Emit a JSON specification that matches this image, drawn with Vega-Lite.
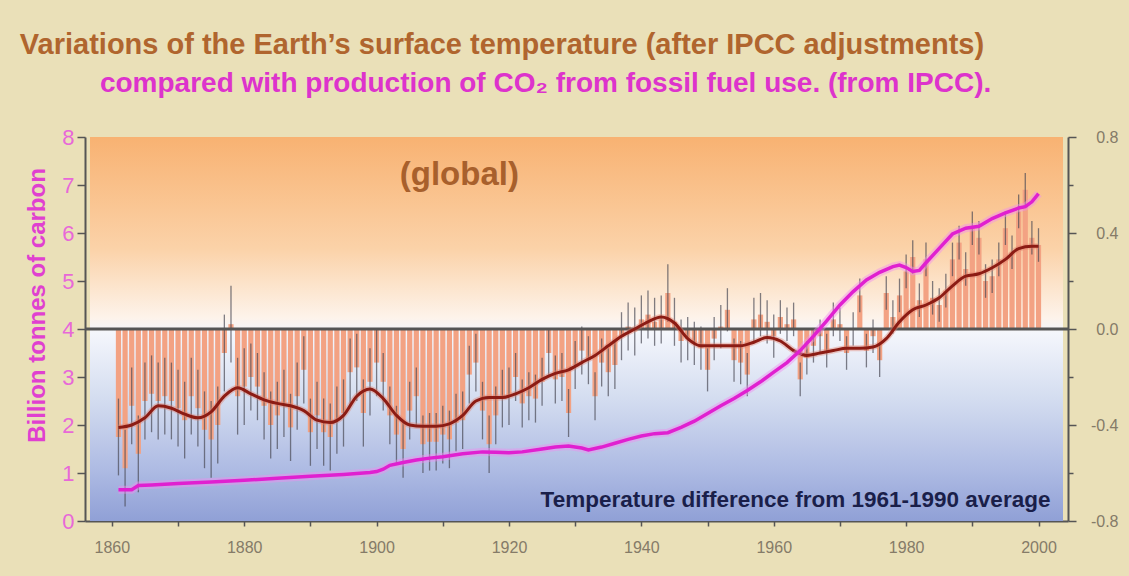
{
  "$schema": "https://vega.github.io/schema/vega-lite/v6.json",
  "width": 983,
  "height": 384,
  "autosize": {"type": "none"},
  "padding": {"left": 85, "top": 137, "right": 61, "bottom": 55},
  "background": "#eae0b8",
  "config": {"view": {"stroke": null}},
  "datasets": {
    "temp": [
      {"year":1861,"t":-0.45,"u":0.16},{"year":1862,"t":-0.58,"u":0.16},{"year":1863,"t":-0.32,"u":0.16},{"year":1864,"t":-0.52,"u":0.16},{"year":1865,"t":-0.30,"u":0.16},
      {"year":1866,"t":-0.27,"u":0.16},{"year":1867,"t":-0.30,"u":0.16},{"year":1868,"t":-0.28,"u":0.16},{"year":1869,"t":-0.30,"u":0.16},{"year":1870,"t":-0.33,"u":0.16},
      {"year":1871,"t":-0.38,"u":0.16},{"year":1872,"t":-0.28,"u":0.16},{"year":1873,"t":-0.33,"u":0.16},{"year":1874,"t":-0.42,"u":0.16},{"year":1875,"t":-0.46,"u":0.16},
      {"year":1876,"t":-0.40,"u":0.16},{"year":1877,"t":-0.10,"u":0.16},{"year":1878,"t":0.02,"u":0.16},{"year":1879,"t":-0.28,"u":0.16},{"year":1880,"t":-0.24,"u":0.16},
      {"year":1881,"t":-0.20,"u":0.14},{"year":1882,"t":-0.24,"u":0.14},{"year":1883,"t":-0.32,"u":0.14},{"year":1884,"t":-0.40,"u":0.14},{"year":1885,"t":-0.36,"u":0.14},
      {"year":1886,"t":-0.31,"u":0.14},{"year":1887,"t":-0.41,"u":0.14},{"year":1888,"t":-0.28,"u":0.14},{"year":1889,"t":-0.17,"u":0.14},{"year":1890,"t":-0.43,"u":0.14},
      {"year":1891,"t":-0.36,"u":0.14},{"year":1892,"t":-0.43,"u":0.14},{"year":1893,"t":-0.45,"u":0.14},{"year":1894,"t":-0.38,"u":0.14},{"year":1895,"t":-0.35,"u":0.14},
      {"year":1896,"t":-0.18,"u":0.14},{"year":1897,"t":-0.16,"u":0.14},{"year":1898,"t":-0.35,"u":0.14},{"year":1899,"t":-0.22,"u":0.14},{"year":1900,"t":-0.14,"u":0.14},
      {"year":1901,"t":-0.22,"u":0.12},{"year":1902,"t":-0.36,"u":0.12},{"year":1903,"t":-0.44,"u":0.12},{"year":1904,"t":-0.50,"u":0.12},{"year":1905,"t":-0.34,"u":0.12},
      {"year":1906,"t":-0.28,"u":0.12},{"year":1907,"t":-0.48,"u":0.12},{"year":1908,"t":-0.47,"u":0.12},{"year":1909,"t":-0.47,"u":0.12},{"year":1910,"t":-0.44,"u":0.12},
      {"year":1911,"t":-0.46,"u":0.12},{"year":1912,"t":-0.39,"u":0.12},{"year":1913,"t":-0.38,"u":0.12},{"year":1914,"t":-0.19,"u":0.12},{"year":1915,"t":-0.14,"u":0.12},
      {"year":1916,"t":-0.34,"u":0.12},{"year":1917,"t":-0.48,"u":0.12},{"year":1918,"t":-0.36,"u":0.12},{"year":1919,"t":-0.29,"u":0.12},{"year":1920,"t":-0.28,"u":0.12},
      {"year":1921,"t":-0.20,"u":0.10},{"year":1922,"t":-0.31,"u":0.10},{"year":1923,"t":-0.28,"u":0.10},{"year":1924,"t":-0.29,"u":0.10},{"year":1925,"t":-0.22,"u":0.10},
      {"year":1926,"t":-0.10,"u":0.10},{"year":1927,"t":-0.21,"u":0.10},{"year":1928,"t":-0.20,"u":0.10},{"year":1929,"t":-0.35,"u":0.10},{"year":1930,"t":-0.15,"u":0.10},
      {"year":1931,"t":-0.09,"u":0.10},{"year":1932,"t":-0.13,"u":0.10},{"year":1933,"t":-0.28,"u":0.10},{"year":1934,"t":-0.14,"u":0.10},{"year":1935,"t":-0.18,"u":0.10},
      {"year":1936,"t":-0.15,"u":0.10},{"year":1937,"t":-0.03,"u":0.10},{"year":1938,"t":0.01,"u":0.10},{"year":1939,"t":-0.01,"u":0.10},{"year":1940,"t":0.04,"u":0.10},
      {"year":1941,"t":0.06,"u":0.10},{"year":1942,"t":0.03,"u":0.10},{"year":1943,"t":0.04,"u":0.10},{"year":1944,"t":0.15,"u":0.12},{"year":1945,"t":0.03,"u":0.10},
      {"year":1946,"t":-0.05,"u":0.09},{"year":1947,"t":-0.04,"u":0.09},{"year":1948,"t":-0.06,"u":0.09},{"year":1949,"t":-0.08,"u":0.09},{"year":1950,"t":-0.17,"u":0.09},
      {"year":1951,"t":-0.04,"u":0.09},{"year":1952,"t":0.01,"u":0.09},{"year":1953,"t":0.08,"u":0.09},{"year":1954,"t":-0.13,"u":0.09},{"year":1955,"t":-0.14,"u":0.09},
      {"year":1956,"t":-0.19,"u":0.09},{"year":1957,"t":0.04,"u":0.09},{"year":1958,"t":0.06,"u":0.09},{"year":1959,"t":0.03,"u":0.09},{"year":1960,"t":-0.03,"u":0.09},
      {"year":1961,"t":0.05,"u":0.07},{"year":1962,"t":0.02,"u":0.07},{"year":1963,"t":0.04,"u":0.07},{"year":1964,"t":-0.21,"u":0.07},{"year":1965,"t":-0.12,"u":0.07},
      {"year":1966,"t":-0.07,"u":0.07},{"year":1967,"t":-0.03,"u":0.07},{"year":1968,"t":-0.09,"u":0.07},{"year":1969,"t":0.04,"u":0.07},{"year":1970,"t":0.02,"u":0.07},
      {"year":1971,"t":-0.10,"u":0.07},{"year":1972,"t":0.00,"u":0.07},{"year":1973,"t":0.14,"u":0.07},{"year":1974,"t":-0.09,"u":0.07},{"year":1975,"t":-0.03,"u":0.07},
      {"year":1976,"t":-0.13,"u":0.07},{"year":1977,"t":0.15,"u":0.07},{"year":1978,"t":0.05,"u":0.07},{"year":1979,"t":0.14,"u":0.07},{"year":1980,"t":0.24,"u":0.07},
      {"year":1981,"t":0.30,"u":0.07},{"year":1982,"t":0.12,"u":0.07},{"year":1983,"t":0.29,"u":0.07},{"year":1984,"t":0.13,"u":0.07},{"year":1985,"t":0.10,"u":0.07},
      {"year":1986,"t":0.16,"u":0.07},{"year":1987,"t":0.29,"u":0.07},{"year":1988,"t":0.36,"u":0.07},{"year":1989,"t":0.25,"u":0.07},{"year":1990,"t":0.42,"u":0.07},
      {"year":1991,"t":0.38,"u":0.07},{"year":1992,"t":0.20,"u":0.07},{"year":1993,"t":0.22,"u":0.07},{"year":1994,"t":0.29,"u":0.07},{"year":1995,"t":0.42,"u":0.07},
      {"year":1996,"t":0.32,"u":0.07},{"year":1997,"t":0.49,"u":0.07},{"year":1998,"t":0.58,"u":0.07},{"year":1999,"t":0.38,"u":0.07},{"year":2000,"t":0.35,"u":0.07}
    ],
    "smooth": [
      {"year":1861,"s":-0.41},{"year":1863,"s":-0.40},{"year":1865,"s":-0.37},{"year":1867,"s":-0.32},{"year":1869,"s":-0.33},
      {"year":1871,"s":-0.355},{"year":1873,"s":-0.37},{"year":1875,"s":-0.345},{"year":1877,"s":-0.28},{"year":1879,"s":-0.245},
      {"year":1881,"s":-0.27},{"year":1883,"s":-0.295},{"year":1885,"s":-0.31},{"year":1887,"s":-0.32},{"year":1889,"s":-0.34},
      {"year":1891,"s":-0.38},{"year":1893,"s":-0.39},{"year":1895,"s":-0.36},{"year":1897,"s":-0.28},{"year":1899,"s":-0.25},
      {"year":1901,"s":-0.29},{"year":1903,"s":-0.36},{"year":1905,"s":-0.40},{"year":1907,"s":-0.405},{"year":1909,"s":-0.405},
      {"year":1911,"s":-0.395},{"year":1913,"s":-0.36},{"year":1915,"s":-0.30},{"year":1917,"s":-0.285},{"year":1919,"s":-0.285},
      {"year":1921,"s":-0.27},{"year":1923,"s":-0.245},{"year":1925,"s":-0.21},{"year":1927,"s":-0.185},{"year":1929,"s":-0.17},
      {"year":1931,"s":-0.14},{"year":1933,"s":-0.11},{"year":1935,"s":-0.07},{"year":1937,"s":-0.03},{"year":1939,"s":0.0},
      {"year":1941,"s":0.03},{"year":1943,"s":0.05},{"year":1945,"s":0.025},{"year":1947,"s":-0.04},{"year":1949,"s":-0.07},
      {"year":1951,"s":-0.07},{"year":1953,"s":-0.07},{"year":1955,"s":-0.07},{"year":1957,"s":-0.055},{"year":1959,"s":-0.035},
      {"year":1961,"s":-0.05},{"year":1963,"s":-0.09},{"year":1965,"s":-0.11},{"year":1967,"s":-0.10},{"year":1969,"s":-0.09},
      {"year":1971,"s":-0.08},{"year":1973,"s":-0.08},{"year":1975,"s":-0.075},{"year":1977,"s":-0.04},{"year":1979,"s":0.03},
      {"year":1981,"s":0.08},{"year":1983,"s":0.10},{"year":1985,"s":0.13},{"year":1987,"s":0.18},{"year":1989,"s":0.22},
      {"year":1991,"s":0.23},{"year":1993,"s":0.255},{"year":1995,"s":0.29},{"year":1997,"s":0.335},{"year":1999,"s":0.345},{"year":2000,"s":0.345}
    ],
    "co2": [
      {"year":1861,"c":0.65},{"year":1863,"c":0.65},{"year":1864,"c":0.74},{"year":1866,"c":0.75},{"year":1870,"c":0.78},
      {"year":1875,"c":0.81},{"year":1880,"c":0.85},{"year":1885,"c":0.89},{"year":1890,"c":0.93},{"year":1895,"c":0.97},
      {"year":1899,"c":1.01},{"year":1900,"c":1.03},{"year":1901,"c":1.08},{"year":1902,"c":1.16},{"year":1904,"c":1.22},
      {"year":1906,"c":1.27},{"year":1908,"c":1.31},{"year":1910,"c":1.34},{"year":1913,"c":1.40},{"year":1916,"c":1.44},
      {"year":1918,"c":1.43},{"year":1920,"c":1.42},{"year":1922,"c":1.44},{"year":1925,"c":1.50},{"year":1927,"c":1.54},
      {"year":1929,"c":1.56},{"year":1931,"c":1.52},{"year":1932,"c":1.48},{"year":1934,"c":1.54},{"year":1936,"c":1.62},
      {"year":1938,"c":1.70},{"year":1940,"c":1.77},{"year":1942,"c":1.82},{"year":1944,"c":1.84},{"year":1946,"c":1.95},
      {"year":1948,"c":2.08},{"year":1950,"c":2.24},{"year":1952,"c":2.40},{"year":1954,"c":2.55},{"year":1956,"c":2.72},
      {"year":1958,"c":2.90},{"year":1960,"c":3.10},{"year":1962,"c":3.30},{"year":1964,"c":3.55},{"year":1966,"c":3.85},
      {"year":1968,"c":4.17},{"year":1970,"c":4.50},{"year":1972,"c":4.78},{"year":1974,"c":5.02},{"year":1976,"c":5.18},
      {"year":1978,"c":5.30},{"year":1979,"c":5.33},{"year":1980,"c":5.28},{"year":1981,"c":5.20},{"year":1982,"c":5.22},
      {"year":1983,"c":5.38},{"year":1985,"c":5.68},{"year":1987,"c":5.98},{"year":1989,"c":6.10},{"year":1991,"c":6.14},
      {"year":1993,"c":6.30},{"year":1995,"c":6.42},{"year":1997,"c":6.52},{"year":1998,"c":6.55},{"year":1999,"c":6.65},{"year":2000,"c":6.82}
    ],
    "headings": [
      {"line": "Variations of the Earth’s surface temperature (after IPCC adjustments)", "kind": "title"},
      {"line": "compared with production of CO₂ from fossil fuel use. (from IPCC).", "kind": "subtitle"}
    ]
  },
  "resolve": {"scale": {"y": "independent"}},
  "layer": [
    {
      "layer": [
        {
          "data": {"values": [{}]},
          "mark": {
            "type": "rect",
            "color": {
              "gradient": "linear", "x1": 0, "y1": 0, "x2": 0, "y2": 1,
              "stops": [
                {"offset": 0, "color": "#f8b272"},
                {"offset": 0.29, "color": "#fbd2a8"},
                {"offset": 0.47, "color": "#fdf3ea"},
                {"offset": 0.51, "color": "#f4f6fc"},
                {"offset": 0.68, "color": "#d4ddf0"},
                {"offset": 0.87, "color": "#adbae3"},
                {"offset": 1, "color": "#90a0d6"}
              ]
            }
          },
          "encoding": {
            "x": {"datum": 1856.7, "type": "quantitative"},
            "x2": {"datum": 2003.7},
            "y": {"datum": -0.8, "type": "quantitative"},
            "y2": {"datum": 0.8}
          }
        },
        {
          "data": {"name": "temp"},
          "mark": {"type": "bar", "width": 5.2, "color": "#f3a283"},
          "encoding": {
            "x": {
              "field": "year", "type": "quantitative",
              "scale": {"domain": [1856.7, 2003.7], "nice": false, "zero": false},
              "axis": {
                "title": null,
                "values": [1860,1870,1880,1890,1900,1910,1920,1930,1940,1950,1960,1970,1980,1990,2000],
                "format": "d",
                "labelExpr": "datum.value % 20 === 0 ? datum.label : ''",
                "labelOverlap": false,
                "labelFont": "Liberation Sans",
                "labelFontSize": 16,
                "labelColor": "#857b68",
                "labelPadding": 13,
                "domainColor": "#555555",
                "domainWidth": 2,
                "tickColor": "#555555",
                "tickWidth": 1.5,
                "tickSize": 5,
                "grid": false
              }
            },
            "y": {
              "field": "t", "type": "quantitative",
              "scale": {"domain": [-0.8, 0.8], "nice": false, "zero": false},
              "axis": {
                "orient": "right",
                "title": null,
                "values": [-0.8,-0.7,-0.6,-0.5,-0.4,-0.3,-0.2,-0.1,0,0.1,0.2,0.3,0.4,0.5,0.6,0.7,0.8],
                "labelExpr": "round(datum.value*10) % 4 === 0 ? replace(format(datum.value, '.1f'), '−', '-') : ''",
                "labelOverlap": false,
                "labelFont": "Liberation Sans",
                "labelFontSize": 16,
                "labelColor": "#857b68",
                "labelAlign": "right",
                "labelPadding": 42,
                "domainColor": "#555555",
                "domainWidth": 2,
                "tickColor": "#555555",
                "tickWidth": 1.5,
                "tickSize": {"condition": {"test": "round(datum.value*10) % 4 === 0", "value": 8}, "value": 5},
                "grid": false
              }
            },
            "y2": {"datum": 0}
          }
        },
        {
          "data": {"name": "temp"},
          "mark": {"type": "errorbar", "color": "#4a4a55", "thickness": 1.3, "opacity": 0.7},
          "encoding": {
            "x": {"field": "year", "type": "quantitative"},
            "y": {"field": "t", "type": "quantitative"},
            "yError": {"field": "u"}
          }
        },
        {
          "data": {"values": [{}]},
          "mark": {"type": "rule", "color": "#555555", "strokeWidth": 3},
          "encoding": {"y": {"datum": 0, "type": "quantitative"}}
        },
        {
          "data": {"name": "smooth"},
          "mark": {"type": "line", "color": "#e0806e", "strokeWidth": 6, "opacity": 0.4, "interpolate": "monotone"},
          "encoding": {
            "x": {"field": "year", "type": "quantitative"},
            "y": {"field": "s", "type": "quantitative"}
          }
        },
        {
          "data": {"name": "smooth"},
          "mark": {"type": "line", "color": "#8c1c14", "strokeWidth": 3, "interpolate": "monotone"},
          "encoding": {
            "x": {"field": "year", "type": "quantitative"},
            "y": {"field": "s", "type": "quantitative"}
          }
        },
        {
          "data": {"values": [{"label": "(global)"}]},
          "mark": {"type": "text", "font": "Liberation Sans", "fontSize": 33, "fontWeight": "bold", "color": "#a8602c", "align": "center", "baseline": "middle"},
          "encoding": {
            "x": {"datum": 1912.5, "type": "quantitative"},
            "y": {"datum": 0.64, "type": "quantitative"},
            "text": {"field": "label"}
          }
        },
        {
          "data": {"values": [{"label": "Temperature difference from 1961-1990 average"}]},
          "mark": {"type": "text", "font": "Liberation Sans", "fontSize": 22.5, "fontWeight": "bold", "color": "#1a1f4a", "align": "right", "baseline": "middle"},
          "encoding": {
            "x": {"datum": 2001.8, "type": "quantitative"},
            "y": {"datum": -0.712, "type": "quantitative"},
            "text": {"field": "label"}
          }
        },
        {
          "data": {"name": "headings"},
          "transform": [{"filter": "datum.kind === 'title'"}],
          "mark": {"type": "text", "font": "Liberation Sans", "fontSize": 29, "fontWeight": "bold", "color": "#b0652e", "align": "left", "baseline": "middle"},
          "encoding": {
            "x": {"datum": 1846.1, "type": "quantitative"},
            "y": {"datum": 1.185, "type": "quantitative"},
            "text": {"field": "line"}
          }
        },
        {
          "data": {"name": "headings"},
          "transform": [{"filter": "datum.kind === 'subtitle'"}],
          "mark": {"type": "text", "font": "Liberation Sans", "fontSize": 28, "fontWeight": "bold", "color": "#dd33cc", "align": "left", "baseline": "middle"},
          "encoding": {
            "x": {"datum": 1858.2, "type": "quantitative"},
            "y": {"datum": 1.02, "type": "quantitative"},
            "text": {"field": "line"}
          }
        }
      ]
    },
    {
      "data": {"name": "co2"},
      "layer": [
        {
          "mark": {"type": "line", "color": "#f08ef0", "strokeWidth": 8, "opacity": 0.45},
          "encoding": {
            "x": {"field": "year", "type": "quantitative"},
            "y": {
              "field": "c", "type": "quantitative",
              "scale": {"domain": [0, 8], "nice": false, "zero": false},
              "axis": {
                "orient": "left",
                "title": "Billion tonnes of carbon",
                "titleFont": "Liberation Sans",
                "titleFontSize": 24,
                "titleFontWeight": "bold",
                "titleColor": "#e040d0",
                "titleX": -36,
                "titleY": 168,
                "values": [0,0.25,0.5,0.75,1,1.25,1.5,1.75,2,2.25,2.5,2.75,3,3.25,3.5,3.75,4,4.25,4.5,4.75,5,5.25,5.5,5.75,6,6.25,6.5,6.75,7,7.25,7.5,7.75,8],
                "labelExpr": "datum.value % 1 === 0 ? format(datum.value, 'd') : ''",
                "labelOverlap": false,
                "labelFont": "Liberation Sans",
                "labelFontSize": 22,
                "labelColor": "#e868d8",
                "labelPadding": 3,
                "domainColor": "#555555",
                "domainWidth": 2,
                "tickColor": "#555555",
                "tickWidth": 1.5,
                "tickSize": {"condition": {"test": "datum.value % 1 === 0", "value": 8}, "value": 5},
                "grid": false
              }
            }
          }
        },
        {
          "mark": {"type": "line", "color": "#e020d0", "strokeWidth": 3.5},
          "encoding": {
            "x": {"field": "year", "type": "quantitative"},
            "y": {"field": "c", "type": "quantitative"}
          }
        }
      ]
    }
  ]
}
